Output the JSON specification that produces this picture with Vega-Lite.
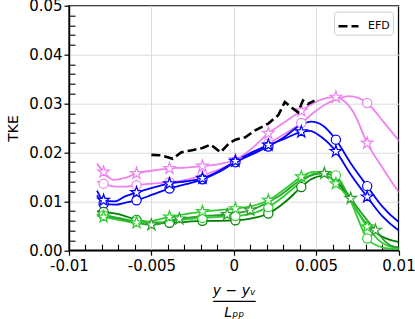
{
  "$schema": "https://vega.github.io/schema/vega-lite/v6.json",
  "width": 329.5,
  "height": 244.5,
  "autosize": {"type": "none"},
  "padding": {"left": 69, "top": 5.7, "right": 16, "bottom": 69},
  "config": {
    "font": "DejaVu Sans",
    "view": {"stroke": "black", "strokeWidth": 1.4},
    "axis": {"labelFont": "DejaVu Sans", "titleFont": "DejaVu Sans", "labelColor": "black", "titleColor": "black", "titleFontWeight": "normal", "labelFlush": false, "labelOverlap": false}
  },
  "datasets": {
    "efd": [
      {"s":"EFD","x":-0.0050,"y":0.0195},{"s":"EFD","x":-0.0044,"y":0.0194},{"s":"EFD","x":-0.0037,"y":0.0187},{"s":"EFD","x":-0.0032,"y":0.0200},{"s":"EFD","x":-0.0026,"y":0.0204},{"s":"EFD","x":-0.0019,"y":0.0209},{"s":"EFD","x":-0.0014,"y":0.0216},{"s":"EFD","x":-0.0008,"y":0.0200},{"s":"EFD","x":-0.0003,"y":0.0218},{"s":"EFD","x":0.0001,"y":0.0226},{"s":"EFD","x":0.0007,"y":0.0231},{"s":"EFD","x":0.0013,"y":0.0245},{"s":"EFD","x":0.0021,"y":0.0259},{"s":"EFD","x":0.0027,"y":0.0276},{"s":"EFD","x":0.0031,"y":0.0303},{"s":"EFD","x":0.0035,"y":0.0292},{"s":"EFD","x":0.0039,"y":0.0282},{"s":"EFD","x":0.0042,"y":0.0306},{"s":"EFD","x":0.0045,"y":0.0299},{"s":"EFD","x":0.0049,"y":0.0306}
    ],
    "lines": [
      {"s":"VC","x":-0.0083,"y":0.0141},{"s":"VC","x":-0.0079,"y":0.0136},{"s":"VC","x":-0.0072,"y":0.0130},{"s":"VC","x":-0.0066,"y":0.0130},{"s":"VC","x":-0.0059,"y":0.0133},{"s":"VC","x":-0.0050,"y":0.0136},{"s":"VC","x":-0.0039,"y":0.0139},{"s":"VC","x":-0.0029,"y":0.0144},{"s":"VC","x":-0.0019,"y":0.0153},{"s":"VC","x":-0.0009,"y":0.0165},{"s":"VC","x":0.0001,"y":0.0181},{"s":"VC","x":0.0011,"y":0.0198},{"s":"VC","x":0.0021,"y":0.0218},{"s":"VC","x":0.0031,"y":0.0238},{"s":"VC","x":0.0041,"y":0.0260},{"s":"VC","x":0.0048,"y":0.0280},{"s":"VC","x":0.0055,"y":0.0297},{"s":"VC","x":0.0062,"y":0.0308},{"s":"VC","x":0.0070,"y":0.0315},{"s":"VC","x":0.0081,"y":0.0301},{"s":"VC","x":0.0091,"y":0.0262},{"s":"VC","x":0.0100,"y":0.0225},{"s":"VC","x":0.0106,"y":0.0200},
      {"s":"VS","x":-0.0083,"y":0.0177},{"s":"VS","x":-0.0079,"y":0.0160},{"s":"VS","x":-0.0073,"y":0.0144},{"s":"VS","x":-0.0066,"y":0.0148},{"s":"VS","x":-0.0059,"y":0.0157},{"s":"VS","x":-0.0049,"y":0.0163},{"s":"VS","x":-0.0039,"y":0.0167},{"s":"VS","x":-0.0029,"y":0.0169},{"s":"VS","x":-0.0019,"y":0.0172},{"s":"VS","x":-0.0009,"y":0.0176},{"s":"VS","x":0.0001,"y":0.0185},{"s":"VS","x":0.0011,"y":0.0208},{"s":"VS","x":0.0021,"y":0.0239},{"s":"VS","x":0.0031,"y":0.0262},{"s":"VS","x":0.0041,"y":0.0285},{"s":"VS","x":0.0048,"y":0.0300},{"s":"VS","x":0.0055,"y":0.0310},{"s":"VS","x":0.0062,"y":0.0313},{"s":"VS","x":0.0067,"y":0.0305},{"s":"VS","x":0.0073,"y":0.0280},{"s":"VS","x":0.0081,"y":0.0219},{"s":"VS","x":0.0090,"y":0.0170},{"s":"VS","x":0.0100,"y":0.0120},{"s":"VS","x":0.0106,"y":0.0095},
      {"s":"BC","x":-0.0083,"y":0.0112},{"s":"BC","x":-0.0079,"y":0.0095},{"s":"BC","x":-0.0072,"y":0.0093},{"s":"BC","x":-0.0066,"y":0.0097},{"s":"BC","x":-0.0059,"y":0.0102},{"s":"BC","x":-0.0049,"y":0.0114},{"s":"BC","x":-0.0039,"y":0.0126},{"s":"BC","x":-0.0029,"y":0.0135},{"s":"BC","x":-0.0019,"y":0.0145},{"s":"BC","x":-0.0009,"y":0.0160},{"s":"BC","x":0.0001,"y":0.0180},{"s":"BC","x":0.0011,"y":0.0196},{"s":"BC","x":0.0021,"y":0.0212},{"s":"BC","x":0.0031,"y":0.0232},{"s":"BC","x":0.0041,"y":0.0257},{"s":"BC","x":0.0047,"y":0.0263},{"s":"BC","x":0.0054,"y":0.0255},{"s":"BC","x":0.0062,"y":0.0226},{"s":"BC","x":0.0071,"y":0.0178},{"s":"BC","x":0.0081,"y":0.0131},{"s":"BC","x":0.0090,"y":0.0090},{"s":"BC","x":0.0100,"y":0.0058},{"s":"BC","x":0.0106,"y":0.0045},
      {"s":"BS","x":-0.0083,"y":0.0122},{"s":"BS","x":-0.0079,"y":0.0102},{"s":"BS","x":-0.0072,"y":0.0100},{"s":"BS","x":-0.0066,"y":0.0110},{"s":"BS","x":-0.0059,"y":0.0118},{"s":"BS","x":-0.0049,"y":0.0128},{"s":"BS","x":-0.0039,"y":0.0136},{"s":"BS","x":-0.0029,"y":0.0141},{"s":"BS","x":-0.0019,"y":0.0147},{"s":"BS","x":-0.0009,"y":0.0162},{"s":"BS","x":0.0001,"y":0.0182},{"s":"BS","x":0.0011,"y":0.0200},{"s":"BS","x":0.0021,"y":0.0215},{"s":"BS","x":0.0031,"y":0.0228},{"s":"BS","x":0.0041,"y":0.0242},{"s":"BS","x":0.0046,"y":0.0244},{"s":"BS","x":0.0053,"y":0.0232},{"s":"BS","x":0.0062,"y":0.0202},{"s":"BS","x":0.0071,"y":0.0155},{"s":"BS","x":0.0081,"y":0.0109},{"s":"BS","x":0.0090,"y":0.0070},{"s":"BS","x":0.0100,"y":0.0041},{"s":"BS","x":0.0106,"y":0.0030},
      {"s":"G1","x":-0.0083,"y":0.0080},{"s":"G1","x":-0.0079,"y":0.0078},{"s":"G1","x":-0.0070,"y":0.0074},{"s":"G1","x":-0.0059,"y":0.0062},{"s":"G1","x":-0.0049,"y":0.0057},{"s":"G1","x":-0.0039,"y":0.0056},{"s":"G1","x":-0.0029,"y":0.0058},{"s":"G1","x":-0.0019,"y":0.0060},{"s":"G1","x":-0.0009,"y":0.0060},{"s":"G1","x":0.0001,"y":0.0061},{"s":"G1","x":0.0011,"y":0.0065},{"s":"G1","x":0.0021,"y":0.0075},{"s":"G1","x":0.0031,"y":0.0098},{"s":"G1","x":0.0041,"y":0.0129},{"s":"G1","x":0.0047,"y":0.0145},{"s":"G1","x":0.0054,"y":0.0152},{"s":"G1","x":0.0062,"y":0.0142},{"s":"G1","x":0.0071,"y":0.0100},{"s":"G1","x":0.0081,"y":0.0052},{"s":"G1","x":0.0090,"y":0.0028},{"s":"G1","x":0.0100,"y":0.0017},{"s":"G1","x":0.0106,"y":0.0015},
      {"s":"G2","x":-0.0083,"y":0.0072},{"s":"G2","x":-0.0079,"y":0.0071},{"s":"G2","x":-0.0070,"y":0.0066},{"s":"G2","x":-0.0059,"y":0.0059},{"s":"G2","x":-0.0049,"y":0.0056},{"s":"G2","x":-0.0039,"y":0.0059},{"s":"G2","x":-0.0029,"y":0.0063},{"s":"G2","x":-0.0019,"y":0.0066},{"s":"G2","x":-0.0009,"y":0.0068},{"s":"G2","x":0.0001,"y":0.0070},{"s":"G2","x":0.0011,"y":0.0075},{"s":"G2","x":0.0021,"y":0.0088},{"s":"G2","x":0.0031,"y":0.0112},{"s":"G2","x":0.0041,"y":0.0140},{"s":"G2","x":0.0048,"y":0.0156},{"s":"G2","x":0.0055,"y":0.0161},{"s":"G2","x":0.0062,"y":0.0153},{"s":"G2","x":0.0071,"y":0.0100},{"s":"G2","x":0.0081,"y":0.0024},{"s":"G2","x":0.0088,"y":0.0008},{"s":"G2","x":0.0095,"y":0.0003},{"s":"G2","x":0.0106,"y":0.0002},
      {"s":"G3","x":-0.0083,"y":0.0070},{"s":"G3","x":-0.0079,"y":0.0068},{"s":"G3","x":-0.0070,"y":0.0062},{"s":"G3","x":-0.0059,"y":0.0056},{"s":"G3","x":-0.0049,"y":0.0060},{"s":"G3","x":-0.0039,"y":0.0068},{"s":"G3","x":-0.0029,"y":0.0074},{"s":"G3","x":-0.0019,"y":0.0079},{"s":"G3","x":-0.0009,"y":0.0082},{"s":"G3","x":0.0001,"y":0.0085},{"s":"G3","x":0.0011,"y":0.0090},{"s":"G3","x":0.0021,"y":0.0102},{"s":"G3","x":0.0031,"y":0.0125},{"s":"G3","x":0.0041,"y":0.0150},{"s":"G3","x":0.0048,"y":0.0160},{"s":"G3","x":0.0054,"y":0.0158},{"s":"G3","x":0.0062,"y":0.0136},{"s":"G3","x":0.0071,"y":0.0100},{"s":"G3","x":0.0081,"y":0.0048},{"s":"G3","x":0.0090,"y":0.0015},{"s":"G3","x":0.0100,"y":0.0004},{"s":"G3","x":0.0106,"y":0.0003},
      {"s":"G4","x":-0.0083,"y":0.0073},{"s":"G4","x":-0.0070,"y":0.0065},{"s":"G4","x":-0.0050,"y":0.0052},{"s":"G4","x":-0.0033,"y":0.0064},{"s":"G4","x":-0.0018,"y":0.0070},{"s":"G4","x":-0.0004,"y":0.0073},{"s":"G4","x":0.0010,"y":0.0082},{"s":"G4","x":0.0028,"y":0.0112},{"s":"G4","x":0.0042,"y":0.0146},{"s":"G4","x":0.0055,"y":0.0157},{"s":"G4","x":0.0063,"y":0.0145},{"s":"G4","x":0.0071,"y":0.0106},{"s":"G4","x":0.0086,"y":0.0041},{"s":"G4","x":0.0095,"y":0.0010},{"s":"G4","x":0.0106,"y":0.0003}
    ],
    "marks": [
      {"s":"VC","m":"c","x":-0.0079,"y":0.0136},{"s":"VC","m":"c","x":-0.0059,"y":0.0133},{"s":"VC","m":"c","x":-0.0039,"y":0.0139},{"s":"VC","m":"c","x":-0.0019,"y":0.0153},{"s":"VC","m":"c","x":0.0001,"y":0.0181},{"s":"VC","m":"c","x":0.0021,"y":0.0218},{"s":"VC","m":"c","x":0.0041,"y":0.0260},{"s":"VC","m":"c","x":0.0081,"y":0.0301},
      {"s":"VS","m":"s","x":-0.0079,"y":0.0160},{"s":"VS","m":"s","x":-0.0059,"y":0.0157},{"s":"VS","m":"s","x":-0.0039,"y":0.0167},{"s":"VS","m":"s","x":-0.0019,"y":0.0172},{"s":"VS","m":"s","x":0.0001,"y":0.0185},{"s":"VS","m":"s","x":0.0021,"y":0.0239},{"s":"VS","m":"s","x":0.0041,"y":0.0285},{"s":"VS","m":"s","x":0.0062,"y":0.0313},{"s":"VS","m":"s","x":0.0081,"y":0.0219},
      {"s":"BC","m":"c","x":-0.0079,"y":0.0095},{"s":"BC","m":"c","x":-0.0059,"y":0.0102},{"s":"BC","m":"c","x":-0.0039,"y":0.0126},{"s":"BC","m":"c","x":-0.0019,"y":0.0145},{"s":"BC","m":"c","x":0.0001,"y":0.0180},{"s":"BC","m":"c","x":0.0021,"y":0.0212},{"s":"BC","m":"c","x":0.0062,"y":0.0226},{"s":"BC","m":"c","x":0.0081,"y":0.0131},
      {"s":"BS","m":"s","x":-0.0079,"y":0.0102},{"s":"BS","m":"s","x":-0.0059,"y":0.0118},{"s":"BS","m":"s","x":-0.0039,"y":0.0136},{"s":"BS","m":"s","x":-0.0019,"y":0.0147},{"s":"BS","m":"s","x":0.0001,"y":0.0182},{"s":"BS","m":"s","x":0.0021,"y":0.0215},{"s":"BS","m":"s","x":0.0041,"y":0.0242},{"s":"BS","m":"s","x":0.0062,"y":0.0202},{"s":"BS","m":"s","x":0.0081,"y":0.0109},
      {"s":"G1","m":"c","x":-0.0079,"y":0.0078},{"s":"G1","m":"c","x":-0.0059,"y":0.0062},{"s":"G1","m":"c","x":-0.0039,"y":0.0056},{"s":"G1","m":"c","x":-0.0019,"y":0.0060},{"s":"G1","m":"c","x":0.0001,"y":0.0061},{"s":"G1","m":"c","x":0.0021,"y":0.0075},{"s":"G1","m":"c","x":0.0041,"y":0.0129},
      {"s":"G2","m":"c","x":-0.0079,"y":0.0071},{"s":"G2","m":"c","x":-0.0059,"y":0.0059},{"s":"G2","m":"c","x":-0.0019,"y":0.0066},{"s":"G2","m":"c","x":0.0001,"y":0.0070},{"s":"G2","m":"c","x":0.0021,"y":0.0088},{"s":"G2","m":"c","x":0.0062,"y":0.0153},{"s":"G2","m":"c","x":0.0081,"y":0.0024},
      {"s":"G3","m":"s","x":-0.0079,"y":0.0068},{"s":"G3","m":"s","x":-0.0059,"y":0.0056},{"s":"G3","m":"s","x":-0.0039,"y":0.0068},{"s":"G3","m":"s","x":-0.0019,"y":0.0079},{"s":"G3","m":"s","x":0.0001,"y":0.0085},{"s":"G3","m":"s","x":0.0021,"y":0.0102},{"s":"G3","m":"s","x":0.0041,"y":0.0150},{"s":"G3","m":"s","x":0.0062,"y":0.0136},{"s":"G3","m":"s","x":0.0081,"y":0.0048},
      {"s":"G4","m":"s","x":-0.0050,"y":0.0052},{"s":"G4","m":"s","x":-0.0033,"y":0.0064},{"s":"G4","m":"s","x":-0.0004,"y":0.0073},{"s":"G4","m":"s","x":0.0010,"y":0.0082},{"s":"G4","m":"s","x":0.0055,"y":0.0157},{"s":"G4","m":"s","x":0.0071,"y":0.0106},{"s":"G4","m":"s","x":0.0086,"y":0.0041}
    ]
  },
  "resolve": {"axis": {"x": "independent", "y": "independent"}},
  "layer": [
    {
      "data": {"name": "lines"},
      "mark": {"type": "line", "interpolate": "monotone", "strokeWidth": 1.8, "clip": true},
      "encoding": {
        "x": {"field": "x", "type": "quantitative", "scale": {"domain": [-0.01, 0.01], "nice": false, "zero": false},
          "axis": {"orient": "bottom", "title": null, "values": [-0.009,-0.008,-0.007,-0.006,-0.004,-0.003,-0.002,-0.001,0.001,0.002,0.003,0.004,0.006,0.007,0.008,0.009], "labels": false, "domain": false, "grid": false, "tickSize": -6, "tickColor": "black", "tickWidth": 1.1}},
        "y": {"field": "y", "type": "quantitative", "scale": {"domain": [0, 0.05], "nice": false},
          "axis": {"orient": "left", "title": null, "values": [0.002,0.004,0.006,0.008,0.012,0.014,0.016,0.018,0.022,0.024,0.026,0.028,0.032,0.034,0.036,0.038,0.042,0.044,0.046,0.048], "labels": false, "domain": false, "grid": false, "tickSize": -6, "tickColor": "black", "tickWidth": 1.1}},
        "detail": {"field": "s"},
        "stroke": {"field": "s", "type": "nominal", "legend": null,
          "scale": {"domain": ["VC","VS","BC","BS","G1","G2","G3","G4"], "range": ["#ee82ee","#ee82ee","#0000ff","#0000ff","#008000","#32cd32","#32cd32","#2ca02c"]}}
      }
    },
    {
      "data": {"name": "marks"},
      "mark": {"type": "point", "filled": true, "fill": "white", "strokeWidth": 1.2, "opacity": 1, "strokeOpacity": 1, "fillOpacity": 1},
      "encoding": {
        "x": {"field": "x", "type": "quantitative", "axis": null},
        "y": {"field": "y", "type": "quantitative", "axis": null},
        "stroke": {"field": "s", "type": "nominal", "legend": null},
        "shape": {"field": "m", "type": "nominal", "legend": null,
          "scale": {"domain": ["c","s"], "range": ["circle", "M0,-1L0.2245,-0.309L0.951,-0.309L0.363,0.118L0.588,0.809L0,0.382L-0.588,0.809L-0.363,0.118L-0.951,-0.309L-0.2245,-0.309Z"]}},
        "size": {"field": "m", "type": "nominal", "legend": null, "scale": {"domain": ["c","s"], "range": [85, 150]}}
      }
    },
    {
      "data": {"name": "efd"},
      "mark": {"type": "line", "color": "black", "strokeWidth": 2.6},
      "encoding": {
        "x": {"field": "x", "type": "quantitative",
          "axis": {"orient": "bottom", "values": [-0.01,-0.005,0,0.005,0.01], "labelExpr": "'' + datum.value", "labelFontSize": 15, "tickSize": 5, "tickColor": "black", "tickWidth": 1.2, "labelPadding": 3, "domainColor": "black", "domainWidth": 1.4, "grid": true, "gridColor": "#dcdcdc", "gridWidth": 1,
            "title": ["y − yᵥ", "─────", "Lₚₚ"], "titleFontSize": 14, "titleFontStyle": "italic", "titleLineHeight": 11, "titlePadding": 10}},
        "y": {"field": "y", "type": "quantitative",
          "axis": {"orient": "left", "values": [0,0.01,0.02,0.03,0.04,0.05], "format": ".2f", "labelFontSize": 15, "tickSize": 5, "tickColor": "black", "tickWidth": 1.2, "labelPadding": 2, "domainColor": "black", "domainWidth": 1.4, "grid": true, "gridColor": "#dcdcdc", "gridWidth": 1,
            "title": "TKE", "titleFontSize": 14, "titlePadding": 8}},
        "strokeDash": {"field": "s", "type": "nominal", "scale": {"domain": ["EFD"], "range": [[9, 4]]},
          "legend": {"title": null, "orient": "top-right", "offset": 6, "symbolType": "stroke", "symbolSize": 400, "symbolStrokeWidth": 2.6, "symbolStrokeColor": "black", "labelFontSize": 11, "labelFont": "DejaVu Sans", "labelColor": "black", "strokeColor": "#cccccc", "fillColor": "white", "cornerRadius": 3, "padding": 3, "labelOffset": 8}}
      }
    }
  ]
}
